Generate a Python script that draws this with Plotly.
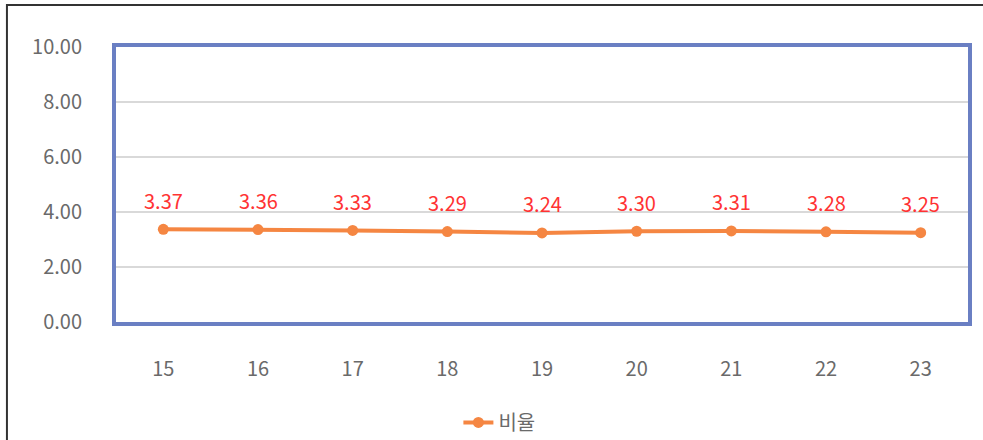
import plotly.graph_objects as go

# Yearly ratio values
years = ["15", "16", "17", "18", "19", "20", "21", "22", "23"]
ratio = [3.37, 3.36, 3.33, 3.29, 3.24, 3.30, 3.31, 3.28, 3.25]
y_ticks = [0, 2, 4, 6, 8, 10]
series_name = "비율"

FONT = "Noto Sans CJK KR, Noto Sans, sans-serif"
ORANGE = "#f58642"
BLUE = "#6a7fc3"
GRAY = "#6a6a6a"

fig = go.Figure()
fig.add_trace(go.Scatter(
    x=list(range(len(years))), y=ratio, mode="lines+markers", name=series_name,
    line=dict(color=ORANGE, width=4),
    marker=dict(color=ORANGE, size=11),
))

# value labels above each point
for i, yv in enumerate(ratio):
    fig.add_annotation(
        x=i, y=yv, xref="x", yref="y", text=f"{yv:.2f}", showarrow=False,
        yshift=29, font=dict(family=FONT, size=20, color="#ff3333"),
    )

# outer frame of the chart area
fig.add_shape(type="rect", xref="paper", yref="paper",
              x0=-0.128, x1=1.03, y0=-0.5, y1=1.153,
              line=dict(color="#333333", width=2), layer="below")

fig.update_layout(
    width=983, height=440,
    margin=dict(l=116, r=15, t=47, b=118, autoexpand=False),
    paper_bgcolor="white", plot_bgcolor="white",
    font=dict(family=FONT, color=GRAY, size=20),
    showlegend=True,
    legend=dict(orientation="h", x=0.45, xanchor="center",
                yref="container", y=0.04, yanchor="middle",
                font=dict(size=20, color=GRAY)),
    xaxis=dict(range=[-0.5, 8.5], tickvals=list(range(len(years))),
               ticktext=years, showgrid=False,
               showline=True, mirror=True, linecolor=BLUE, linewidth=4,
               ticks="", ticklabelstandoff=26, zeroline=False),
    yaxis=dict(range=[0, 10], tickvals=y_ticks, tickformat=".2f",
               showgrid=True, gridcolor="#d9d9d9", gridwidth=2,
               showline=True, mirror=True, linecolor=BLUE, linewidth=4,
               ticks="", ticklabelstandoff=26, zeroline=False),
)

fig.write_html("out.html")
